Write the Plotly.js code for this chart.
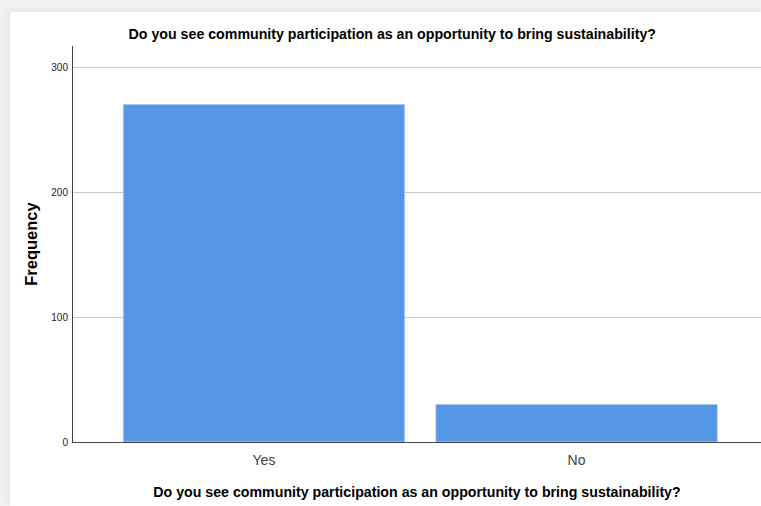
<!DOCTYPE html>
<html>
<head>
<meta charset="utf-8">
<script src="https://cdn.plot.ly/plotly-3.0.1.min.js"></script>
<style>
  html, body { margin: 0; padding: 0; width: 761px; height: 506px; overflow: hidden;
    background: #f1f1f1; }
  #frame { position: absolute; left: 10px; top: 12px; width: 751px; height: 494px; background: #ffffff;
    box-shadow: -2px -2px 6px rgba(0,0,0,0.06); }
  #chart { width: 751px; height: 494px; }
</style>
</head>
<body>
<div id="frame"><div id="chart"></div></div>
<script>
const categories = ["Yes", "No"];
const frequencies = [270, 30];
const yTicks = [0, 100, 200, 300];
const chartTitle = "Do you see community participation as an opportunity to bring sustainability?";
const yTitle = "Frequency";

const trace = {
  type: "bar",
  x: categories,
  y: frequencies,
  width: 0.9,
  marker: { color: "#5596e6", line: { color: "#a9c9f1", width: 1 } },
  hoverinfo: "x+y"
};

const layout = {
  width: 751, height: 494,
  margin: { l: 63, r: 0, t: 34, b: 64 },
  paper_bgcolor: "#ffffff",
  plot_bgcolor: "#ffffff",
  font: { family: "Liberation Sans, Arial, sans-serif", color: "#000" },
  title: {
    text: chartTitle,
    font: { size: 14.2, color: "#000", weight: "bold" },
    x: 0.509, xref: "container", xanchor: "center",
    y: 1 - 22 / 494, yref: "container", yanchor: "middle"
  },
  xaxis: {
    type: "category",
    range: [-0.611, 1.59],
    showline: true, linecolor: "#444", linewidth: 1,
    showgrid: false, ticks: "", ticklen: 0,
    ticklabelstandoff: 5,
    tickfont: { size: 14, color: "#444" },
    title: { text: chartTitle, font: { size: 14.2, color: "#000", weight: "bold" }, standoff: 20 },
    fixedrange: true
  },
  yaxis: {
    range: [0, 316.8],
    tickvals: yTicks,
    ticktext: yTicks.map(String),
    showline: true, linecolor: "#444", linewidth: 1,
    showgrid: true, gridcolor: "#c8c8c8", gridwidth: 1,
    zeroline: false,
    ticks: "", ticklen: 0,
    ticklabelstandoff: 2,
    tickfont: { size: 10, color: "#222" },
    title: { text: yTitle, font: { size: 16.5, color: "#000", weight: "bold" }, standoff: 9 },
    fixedrange: true
  },
  showlegend: false,
  bargap: 0.1
};

Plotly.newPlot("chart", [trace], layout, { displayModeBar: false, staticPlot: false });
</script>
</body>
</html>
